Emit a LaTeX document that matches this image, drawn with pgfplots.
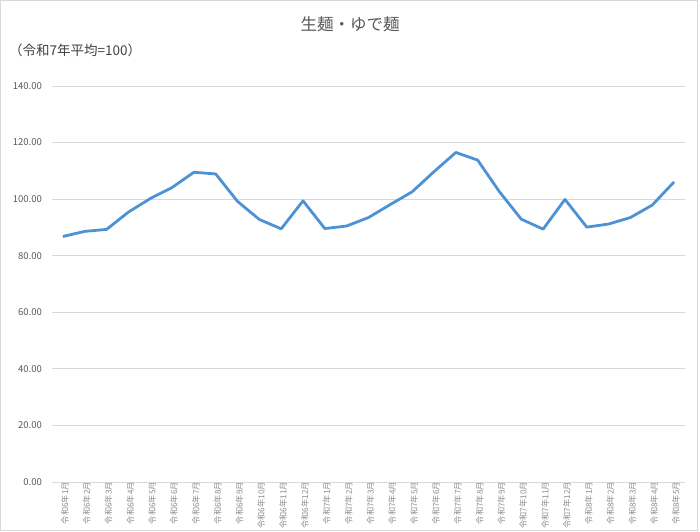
\documentclass[border=0pt]{standalone}
\usepackage{pgfplots}
\pgfplotsset{compat=1.18}
\usepackage{fontspec}
\setmainfont{Noto Sans CJK JP}
\definecolor{linecol}{RGB}{78,146,214}
\definecolor{gridcol}{RGB}{217,217,217}
\definecolor{labcol}{RGB}{89,89,89}
\definecolor{xlabcol}{RGB}{140,140,140}
\begin{document}
\begin{tikzpicture}[x=1bp,y=1bp]
\path (0,0) rectangle (700,532);
\draw[gridcol,line width=0.9bp] (0.5,1.5) rectangle (697,531.5);
\begin{axis}[
    at={(52bp,50bp)}, anchor=south west,
    scale only axis,
    width=633bp, height=396bp,
    xmin=0.5, xmax=29.5,
    ymin=0, ymax=140,
    axis line style={draw=none},
    ytick={0,20,...,140},
    xtick={1,...,29},
    xticklabels={令和6年1月,令和6年2月,令和6年3月,令和6年4月,令和6年5月,令和6年6月,令和6年7月,令和6年8月,令和6年9月,令和6年10月,令和6年11月,令和6年12月,令和7年1月,令和7年2月,令和7年3月,令和7年4月,令和7年5月,令和7年6月,令和7年7月,令和7年8月,令和7年9月,令和7年10月,令和7年11月,令和7年12月,令和8年1月,令和8年2月,令和8年3月,令和8年4月,令和8年5月},
    major tick length=0pt,
    tick style={draw=none},
    ymajorgrids,
    grid style={gridcol,line width=0.9bp},
    /pgf/number format/.cd, fixed, fixed zerofill, precision=2, assume math mode=true,
    /pgfplots/.cd,
    yticklabel style={font=\fontsize{9.5bp}{11bp}\selectfont, text=labcol, anchor=east, inner sep=0pt, xshift=-10bp},
    xticklabel style={font=\fontsize{8.2bp}{9bp}\selectfont, text=xlabcol, rotate=90, anchor=east, inner sep=0pt, yshift=-2bp},
    clip=false,
]
\addplot[linecol, line width=2.8bp, line join=round] coordinates {
    (1,86.8) (2,88.6) (3,89.3) (4,95.4) (5,100.2) (6,104.1) (7,109.5) (8,108.9)
    (9,99.2) (10,92.8) (11,89.5) (12,99.4) (13,89.6) (14,90.5) (15,93.5) (16,98.1)
    (17,102.6) (18,109.7) (19,116.5) (20,113.8) (21,102.6) (22,92.9) (23,89.4) (24,99.9)
    (25,90.1) (26,91.2) (27,93.5) (28,97.9) (29,106.1)
};
\end{axis}
\node[text=labcol, font=\fontsize{16.5bp}{18bp}\selectfont] at (350,507.5) {生麺・ゆで麺};
\node[text=black!75, font=\fontsize{13.5bp}{15bp}\selectfont, anchor=west, inner sep=0pt] at (9,482) {（令和7年平均=100）};
\end{tikzpicture}
\end{document}
